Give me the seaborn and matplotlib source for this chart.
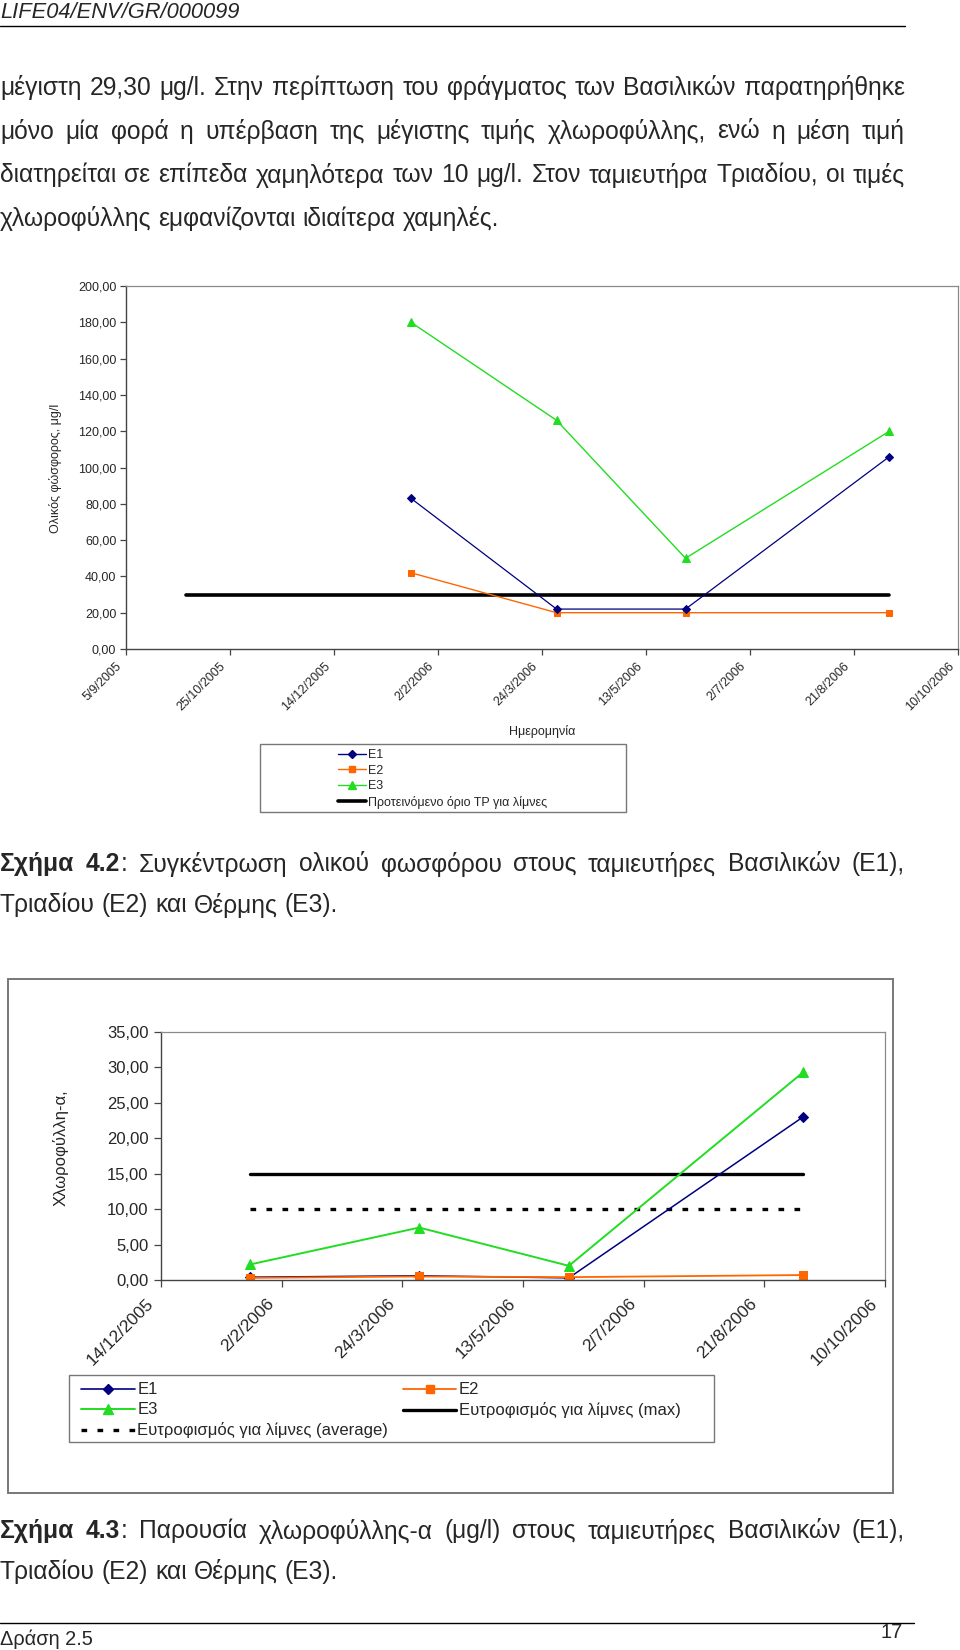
import matplotlib
matplotlib.use('Agg')
import matplotlib.pyplot as plt
import matplotlib.transforms as mtransforms
from matplotlib.lines import Line2D
from matplotlib.patches import Rectangle
from matplotlib.ticker import FuncFormatter
import seaborn as sns
import pandas as pd

sns.set_style('white')
plt.rcParams['font.family'] = ['Liberation Sans', 'DejaVu Sans']

# --- data: total phosphorus (Fig. 4.2) ---
tp_dates = ['2006-01-20', '2006-03-31', '2006-06-01', '2006-09-07']
tp_e1 = [83, 22, 22, 106]
tp_e2 = [42, 20, 20, 20]
tp_e3 = [180, 126, 50, 120]
tp_limit_dates = ['2005-10-04', '2006-09-07']
tp_limit = [30, 30]
tp_axis_start = '2005-09-05'

# --- data: chlorophyll-a (Fig. 4.3) ---
chl_dates = ['2006-01-20', '2006-03-31', '2006-06-01', '2006-09-06']
chl_e1 = [0.4, 0.6, 0.3, 23.0]
chl_e2 = [0.3, 0.5, 0.4, 0.7]
chl_e3 = [2.2, 7.4, 2.0, 29.3]
chl_ref_dates = ['2006-01-20', '2006-09-06']
chl_max = [15, 15]
chl_avg = [10, 10]
chl_axis_start = '2005-12-14'

# --- page text ---
header = 'LIFE04/ENV/GR/000099'
paragraph = [
    'μέγιστη 29,30 μg/l. Στην περίπτωση του φράγματος των Βασιλικών παρατηρήθηκε',
    'μόνο μία φορά η υπέρβαση της μέγιστης τιμής χλωροφύλλης, ενώ η μέση τιμή',
    'διατηρείται σε επίπεδα χαμηλότερα των 10 μg/l. Στον ταμιευτήρα Τριαδίου, οι τιμές',
    'χλωροφύλλης εμφανίζονται ιδιαίτερα χαμηλές.',
]
cap42 = ('4.2', 'Συγκέντρωση ολικού φωσφόρου στους ταμιευτήρες Βασιλικών (Ε1),')
cap43 = ('4.3', 'Παρουσία χλωροφύλλης-α (μg/l) στους ταμιευτήρες Βασιλικών (Ε1),')
cap_line2 = 'Τριαδίου (Ε2) και Θέρμης (Ε3).'

NAVY = '#000080'
ORANGE = '#FF6600'
GREEN = '#22DD22'

W, H = 960, 1650


def fx(x):
    return x / W


def fy(y):
    return 1 - y / H


fig = plt.figure(figsize=(9.6, 16.5), dpi=100)
fig.patch.set_facecolor('white')
renderer = fig.canvas.get_renderer()


def text_width(s, size, weight='normal', style='normal'):
    t = fig.text(0, 0, s, fontsize=size, fontweight=weight, fontstyle=style)
    w = t.get_window_extent(renderer).width
    t.remove()
    return w


def draw_line(words, y, size, x0=0, x1=None):
    # words: list of words, each word a list of (text, weight) runs
    widths = [sum(text_width(t, size, wt) for t, wt in w) for w in words]
    if x1 is None:
        gap = text_width('a a', size) - text_width('aa', size)
    else:
        gap = (x1 - x0 - sum(widths)) / (len(words) - 1)
    x = x0
    for w, wd in zip(words, widths):
        for t, wt in w:
            fig.text(fx(x), fy(y), t, fontsize=size, fontweight=wt,
                     ha='left', va='center')
            x += text_width(t, size, wt)
        x += gap


def plain(s):
    return [[(w, 'normal')] for w in s.split()]


def fmt_comma(v, pos):
    return f'{v:.2f}'.replace('.', ',')


def style_axes(ax, tick_len, xpad, ysize, ypad):
    for side in ['top', 'right']:
        ax.spines[side].set_color('#8a8a8a')
        ax.spines[side].set_linewidth(0.9)
    for side in ['left', 'bottom']:
        ax.spines[side].set_color('#444444')
        ax.spines[side].set_linewidth(1.0)
    ax.tick_params(axis='both', bottom=True, left=True, direction='out',
                   length=tick_len, width=0.9, color='#444444')
    ax.tick_params(axis='x', pad=xpad)
    ax.tick_params(axis='y', labelsize=ysize, pad=ypad)
    ax.yaxis.set_major_formatter(FuncFormatter(fmt_comma))
    ax.set_xlabel('')
    ax.set_ylabel('')


def date_labels(ax, ticks, size, shift_px):
    ax.set_xticks(ticks)
    labels = ax.set_xticklabels([f'{d.day}/{d.month}/{d.year}' for d in ticks],
                                rotation=45, ha='right', va='center',
                                rotation_mode='anchor', fontsize=size)
    offset = mtransforms.ScaledTranslation(-shift_px / 100, 0, fig.dpi_scale_trans)
    for lab in labels:
        lab.set_transform(lab.get_transform() + offset)


# ---------------- page text ----------------
RIGHT = 905
fs_body = 10 * 499 / text_width(paragraph[-1], 10)
fs_head = 10 * 240 / text_width(header, 10, style='italic')

fig.text(fx(0), fy(12), header, fontsize=fs_head, fontstyle='italic',
         ha='left', va='center')
fig.add_artist(Line2D([fx(0), fx(RIGHT)], [fy(26), fy(26)],
                      transform=fig.transFigure, color='black', lw=1))

for i, line in enumerate(paragraph):
    y = 88 + i * 43.5
    draw_line(plain(line), y, fs_body, 0, RIGHT if i < len(paragraph) - 1 else None)


def caption(num, rest, y):
    words = [[('Σχήμα', 'bold')], [(num, 'bold'), (':', 'normal')]] + plain(rest)
    draw_line(words, y, fs_body, 0, RIGHT)
    draw_line(plain(cap_line2), y + 41, fs_body)


caption(*cap42, 864)
caption(*cap43, 1531)

# footer
fig.add_artist(Line2D([fx(0), fx(914)], [fy(1623), fy(1623)],
                      transform=fig.transFigure, color='black', lw=1))
fs_foot = 10 * 93 / text_width('Δράση 2.5', 10)
fig.text(fx(0), fy(1639), 'Δράση 2.5', fontsize=fs_foot, ha='left', va='center')
fig.text(fx(903), fy(1633), '17', fontsize=fs_foot, ha='right', va='center')

# ---------------- Fig. 4.2: total phosphorus ----------------
ax1 = fig.add_axes([fx(126), fy(649), (958 - 126) / W, (649 - 286) / H])
tp = pd.DataFrame({'date': pd.to_datetime(tp_dates),
                   'E1': tp_e1, 'E2': tp_e2, 'E3': tp_e3})
tp_lim = pd.DataFrame({'date': pd.to_datetime(tp_limit_dates), 'lim': tp_limit})

sns.lineplot(data=tp_lim, x='date', y='lim', ax=ax1, color='black', lw=2.6)
sns.lineplot(data=tp, x='date', y='E2', ax=ax1, color=ORANGE, lw=1.0,
             marker='s', markersize=5, markeredgecolor=ORANGE)
sns.lineplot(data=tp, x='date', y='E1', ax=ax1, color=NAVY, lw=0.9,
             marker='D', markersize=4.5, markeredgecolor=NAVY)
sns.lineplot(data=tp, x='date', y='E3', ax=ax1, color=GREEN, lw=1.0,
             marker='^', markersize=6, markeredgecolor=GREEN)

tp_ticks = pd.date_range(tp_axis_start, periods=9, freq='50D')
ax1.set_xlim(tp_ticks[0], tp_ticks[-1])
ax1.set_ylim(0, 200)
ax1.set_yticks(range(0, 201, 20))
style_axes(ax1, 4, 7, 9, 3)
date_labels(ax1, tp_ticks, 9, 6)

fig.text(fx(55), fy(468), 'Ολικός φώσφορος, μg/l', rotation=90,
         fontsize=9, ha='center', va='center')
fig.text(fx(542), fy(731), 'Ημερομηνία', fontsize=9, ha='center', va='center')

fig.add_artist(Rectangle((fx(260), fy(812)), (626 - 260) / W, (812 - 744) / H,
                         transform=fig.transFigure, fill=False,
                         edgecolor='#777777', lw=1))
h1 = [Line2D([], [], color=NAVY, marker='D', ms=4.5, lw=1),
      Line2D([], [], color=ORANGE, marker='s', ms=5, lw=1),
      Line2D([], [], color=GREEN, marker='^', ms=6, lw=1),
      Line2D([], [], color='black', lw=2.6)]
fig.legend(h1, ['E1', 'E2', 'E3', 'Προτεινόμενο όριο TP για λίμνες'],
           loc='upper left', bbox_to_anchor=(fx(332), fy(743)),
           frameon=False, fontsize=9, borderpad=0, handlelength=2.2,
           handletextpad=0.15, labelspacing=0.28)

# ---------------- Fig. 4.3: chlorophyll-a ----------------
fig.add_artist(Rectangle((fx(8), fy(1493)), (893 - 8) / W, (1493 - 979) / H,
                         transform=fig.transFigure, fill=False,
                         edgecolor='#777777', lw=1.4))

ax2 = fig.add_axes([fx(161), fy(1280), (885 - 161) / W, (1280 - 1032) / H])
chl = pd.DataFrame({'date': pd.to_datetime(chl_dates),
                    'E1': chl_e1, 'E2': chl_e2, 'E3': chl_e3})
ref = pd.DataFrame({'date': pd.to_datetime(chl_ref_dates),
                    'max': chl_max, 'avg': chl_avg})

DOTS = (0, (1.7, 3.1))
sns.lineplot(data=ref, x='date', y='max', ax=ax2, color='black', lw=2.4)
sns.lineplot(data=ref, x='date', y='avg', ax=ax2, color='black', lw=2.4,
             linestyle=DOTS, dash_capstyle='butt')
sns.lineplot(data=chl, x='date', y='E3', ax=ax2, color=GREEN, lw=1.4,
             marker='^', markersize=7, markeredgecolor=GREEN)
sns.lineplot(data=chl, x='date', y='E1', ax=ax2, color=NAVY, lw=1.1,
             marker='D', markersize=5.5, markeredgecolor=NAVY)
sns.lineplot(data=chl, x='date', y='E2', ax=ax2, color=ORANGE, lw=1.3,
             marker='s', markersize=6, markeredgecolor=ORANGE)

chl_ticks = pd.date_range(chl_axis_start, periods=7, freq='50D')
ax2.set_xlim(chl_ticks[0], chl_ticks[-1])
ax2.set_ylim(0, 35)
ax2.set_yticks(range(0, 36, 5))
style_axes(ax2, 5, 10, 12, 4)
date_labels(ax2, chl_ticks, 12.5, 10)

fig.text(fx(61), fy(1148), 'Χλωροφύλλη-α,', rotation=90,
         fontsize=12, ha='center', va='center')

fig.add_artist(Rectangle((fx(69), fy(1442)), (714 - 69) / W, (1442 - 1375) / H,
                         transform=fig.transFigure, fill=False,
                         edgecolor='#777777', lw=1))
h_e1 = Line2D([], [], color=NAVY, marker='D', ms=5, lw=1.2)
h_e2 = Line2D([], [], color=ORANGE, marker='s', ms=5.5, lw=1.3)
h_e3 = Line2D([], [], color=GREEN, marker='^', ms=6.5, lw=1.4)
h_max = Line2D([], [], color='black', lw=2.4)
h_avg = Line2D([], [], color='black', lw=2.4, linestyle=DOTS,
               dash_capstyle='butt')
fig.legend([h_e1, h_e3, h_avg, h_e2, h_max],
           ['E1', 'E3', 'Ευτροφισμός για λίμνες (average)',
            'E2', 'Ευτροφισμός για λίμνες (max)'],
           ncol=2, loc='upper left', bbox_to_anchor=(fx(73), fy(1374)),
           frameon=False, fontsize=12, borderpad=0, handlelength=3.2,
           handletextpad=0.15, labelspacing=0.3, columnspacing=0.9)

fig.savefig('out.png', dpi=100, facecolor='white')
